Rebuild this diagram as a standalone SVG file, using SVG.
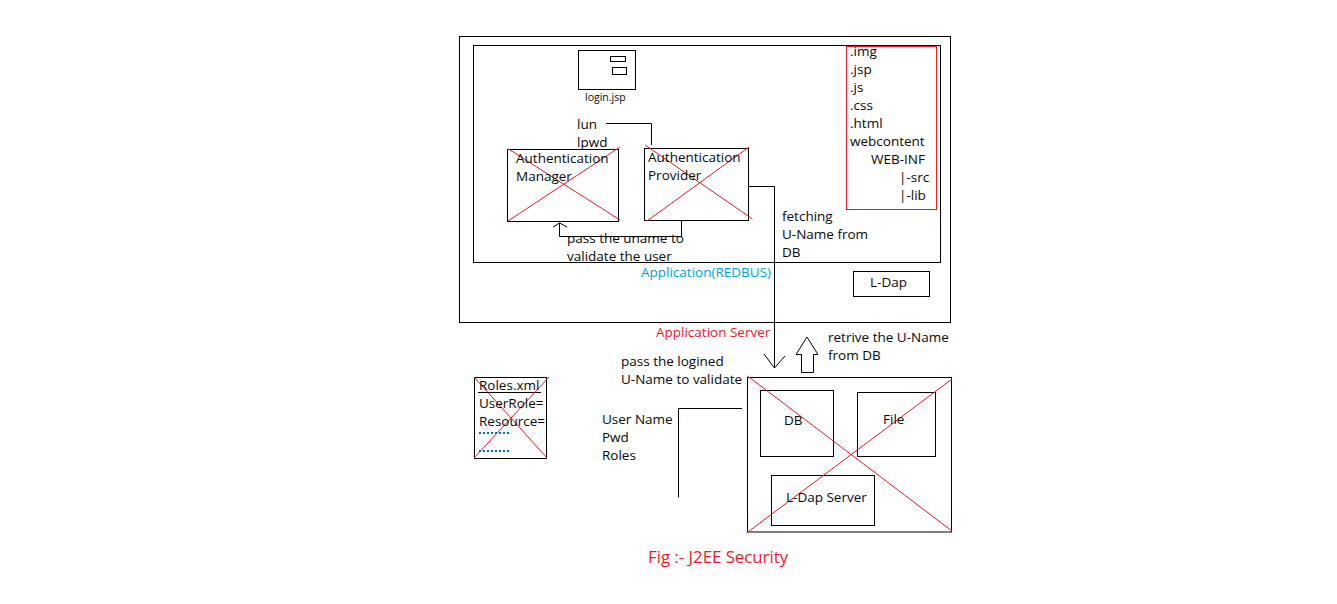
<svg xmlns="http://www.w3.org/2000/svg" width="1337" height="604" viewBox="0 0 1337 604">
<style>
text{font-family:"Open Sans","Noto Sans",sans-serif;font-size:13.5px;fill:#0a0a0a}
.b{fill:none;stroke:#000;stroke-width:1}
.w{fill:#fff;stroke:#000;stroke-width:1}
.x{fill:none;stroke:#ed1c24;stroke-width:1}
.r{fill:#ed1c24}
</style>
<rect width="1337" height="604" fill="#fff"/>
<g id="app-server">
<rect class="b" x="459.5" y="36.5" width="491" height="286"/>
<text class="r" x="656" y="337">Application Server</text>
</g>
<g id="application">
<rect class="b" x="473.5" y="45.5" width="467" height="217"/>
<text x="641" y="277" style="fill:#00a2e8">Application(REDBUS)</text>
</g>
<g id="login">
<rect class="b" x="578.5" y="50.5" width="57" height="39"/>
<rect class="b" x="610.5" y="56.5" width="15" height="5"/>
<rect class="b" x="612.5" y="67.5" width="14" height="7"/>
<text x="585" y="101" style="font-size:10.5px">login.jsp</text>
<text x="577" y="129">lun</text>
<text x="577" y="147">lpwd</text>
</g>
<g id="auth-manager">
<rect class="b" x="507.5" y="149.5" width="111" height="72"/>
<path class="x" d="M508.500 149L620 220M508 221L620 147"/>
<text x="516" y="163">Authentication</text>
<text x="516" y="181">Manager</text>
</g>
<g id="auth-provider">
<rect class="b" x="644.500" y="148.500" width="104" height="72"/>
<path class="x" d="M645 145L752.500 219M647 221L749 147"/>
<text x="648" y="162">Authentication</text>
<text x="648" y="180">Provider</text>
</g>
<g id="webcontent">
<rect x="846.500" y="46.500" width="90" height="163" fill="none" stroke="#ed1c24"/>
<text x="850" y="56">.img</text>
<text x="850" y="74">.jsp</text>
<text x="850" y="92">.js</text>
<text x="850" y="110">.css</text>
<text x="850" y="128">.html</text>
<text x="850" y="146">webcontent</text>
<text x="871" y="164">WEB-INF</text>
<text x="899" y="182">|-src</text>
<text x="899" y="200">|-lib</text>
</g>
<g id="ldap">
<rect class="b" x="853.500" y="271.500" width="76" height="25"/>
<text x="870" y="287">L-Dap</text>
</g>
<g id="roles">
<rect class="b" x="474.500" y="377.500" width="72" height="81"/>
<path class="b" d="M478 392.500H541"/>
<path class="x" d="M474 377L547 458M474 458L549 377"/>
<text x="479" y="390">Roles.xml</text>
<text x="479" y="408">UserRole=</text>
<text x="479" y="426">Resource=</text>
<path d="M479 433H509M479 451H509" fill="none" stroke="#0072bc" stroke-width="2" stroke-dasharray="2 2"/>
</g>
<g id="db-server">
<rect class="b" x="747.500" y="377.500" width="204" height="154.500"/>
<rect class="b" x="760.500" y="390.500" width="73" height="66"/>
<rect class="b" x="857.500" y="392.500" width="78" height="64"/>
<rect class="b" x="771.500" y="475.500" width="103" height="50"/>
<path class="x" d="M747.500 376L952 531M746.500 533L952 379"/>
<text x="784" y="425">DB</text>
<text x="883" y="424">File</text>
<text x="786" y="502">L-Dap Server</text>
</g>
<g id="connectors">
<path class="b" d="M606 123.500H651.500V145"/>
<path class="b" d="M681.500 221V236.500H559.500V223M553 227L559.500 223L567 227"/>
<path class="b" d="M748.500 186.500H774.500V368M764 354L774.500 368L785 356"/>
<path class="b" d="M801.500 372.500V354.500H796L807 337L818 354.500H813.500V372.500Z"/>
<path class="b" d="M678.500 497.500V408.500H742"/>
</g>
<g id="labels">
<text x="567" y="243">pass the uname to</text>
<text x="567" y="261">validate the user</text>
<text x="782" y="221">fetching</text>
<text x="782" y="239">U-Name from</text>
<text x="782" y="257">DB</text>
<text x="828" y="342">retrive the U-Name</text>
<text x="828" y="360">from DB</text>
<text x="621" y="366">pass the logined</text>
<text x="621" y="384">U-Name to validate</text>
<text x="602" y="424">User Name</text>
<text x="602" y="442">Pwd</text>
<text x="602" y="460">Roles</text>
<text class="r" x="648" y="563" style="font-size:16.800px">Fig :- J2EE Security</text>
</g>
</svg>
